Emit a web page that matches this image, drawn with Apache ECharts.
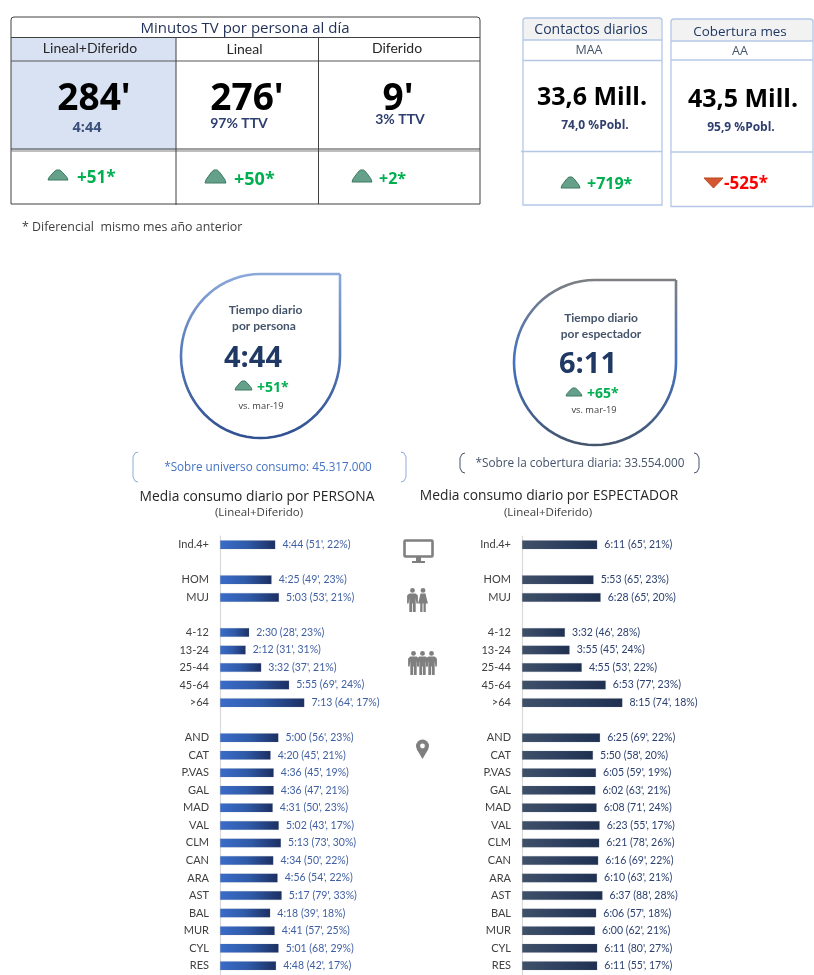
<!DOCTYPE html>
<html>
<head>
<meta charset="utf-8">
<title>Consumo TV</title>
<style>html,body{margin:0;padding:0;background:#fff}#main{width:814px;height:975px}</style>
<script src="https://cdn.jsdelivr.net/npm/echarts@6/dist/echarts.min.js"></script>
</head>
<body>
<div id="main"></div>
<script>
// blank strings are the gaps between groups
var categories = ['Ind.4+','','HOM','MUJ','','4-12','13-24','25-44','45-64','>64','','AND','CAT','P.VAS','GAL','MAD','VAL','CLM','CAN','ARA','AST','BAL','MUR','CYL','RES']

var personaTime = ['4:44',null,'4:25','5:03',null,'2:30','2:12','3:32','5:55','7:13',null,'5:00','4:20','4:36','4:36','4:31','5:02','5:13','4:34','4:56','5:17','4:18','4:41','5:01','4:48']
var personaDiff = [51,null,49,53,null,28,31,37,69,64,null,56,45,45,47,50,43,73,50,54,79,39,57,68,42]
var personaPct = [22,null,23,21,null,23,31,21,24,17,null,23,21,19,21,23,17,30,22,22,33,18,25,29,17]

var espectTime = ['6:11',null,'5:53','6:28',null,'3:32','3:55','4:55','6:53','8:15',null,'6:25','5:50','6:05','6:02','6:08','6:23','6:21','6:16','6:10','6:37','6:06','6:00','6:11','6:11']
var espectDiff = [65,null,65,65,null,46,45,53,77,74,null,69,58,59,63,71,55,78,69,63,88,57,62,80,55]
var espectPct = [21,null,23,20,null,28,24,22,23,18,null,22,20,19,21,24,17,26,22,21,28,18,21,27,17]

var FONT = 'Lato'
var SANS = '"Open Sans"'

function toMinutes(t){
  if(t===null) return null
  var p=t.split(':')
  return parseInt(p[0])*60+parseInt(p[1])
}
function barLabel(times,diffs,pcts){
  return function(p){
    var i=p.dataIndex
    return times[i]+' ('+diffs[i]+"', "+pcts[i]+'%)'
  }
}
function hGrad(a,b,c){
  return {type:'linear',x:0,y:0,x2:1,y2:0,colorStops:[{offset:0,color:a},{offset:0.5,color:b},{offset:1,color:c}]}
}

// ---- little helpers for the panels around the charts ----
var g=[]
function txt(s,x,y,size,color,opt){
  opt=opt||{}
  g.push({type:'text',z:10,x:x,y:y,style:{text:s,fill:color,
    font:(opt.bold?'bold ':'')+size+'px '+(opt.font||FONT),
    align:opt.align||'center',verticalAlign:'middle'}})
}
function line(x1,y1,x2,y2,color,w){
  g.push({type:'line',z:5,shape:{x1:x1,y1:y1,x2:x2,y2:y2},style:{stroke:color,lineWidth:w||1}})
}
function box(x,y,w,h,fill,stroke,r){
  g.push({type:'rect',z:r===undefined?3:4,shape:{x:x,y:y,width:w,height:h,r:r||0},style:{fill:fill||'transparent',stroke:stroke||null,lineWidth:1}})
}
function up(x,y,w,h){ // green mound
  g.push({type:'polygon',z:8,shape:{points:[[x,y+h],[x+w*0.06,y+h*0.72],[x+w*0.3,y+h*0.18],[x+w*0.42,y],[x+w*0.58,y],[x+w*0.7,y+h*0.18],[x+w*0.94,y+h*0.72],[x+w,y+h]]},
    style:{fill:'#64a08a',stroke:'#3f7a64',lineWidth:1}})
}
function down(x,y,w,h){
  g.push({type:'polygon',z:8,shape:{points:[[x,y],[x+w,y],[x+w/2,y+h]]},style:{fill:'#d4572f',stroke:'#b8481f',lineWidth:1}})
}
function drop(cx,cy,rx,ry,stops){
  var pts=[[cx+rx,cy-ry],[cx+rx,cy]]
  for(var a=1;a<=54;a++){
    var t=a/54*1.5*Math.PI
    pts.push([cx+rx*Math.cos(t),cy+ry*Math.sin(t)])
  }
  pts.push([cx+rx,cy-ry])
  g.push({type:'polyline',z:6,shape:{points:pts},style:{fill:'none',lineWidth:2.6,lineJoin:'miter',
    stroke:{type:'linear',x:0,y:0,x2:0,y2:1,colorStops:stops}}})
}
function bracket(x1,x2,y1,y2,color){
  g.push({type:'polyline',z:6,shape:{points:[[x1+5,y1],[x1+2,y1+1],[x1,y1+5],[x1,y2-5],[x1+2,y2-1],[x1+5,y2]]},style:{fill:'none',stroke:color,lineWidth:1}})
  g.push({type:'polyline',z:6,shape:{points:[[x2-5,y1],[x2-2,y1+1],[x2,y1+5],[x2,y2-5],[x2-2,y2-1],[x2-5,y2]]},style:{fill:'none',stroke:color,lineWidth:1}})
}
var ICON='#7f7f7f'
function person(x,y,skirt){
  g.push({type:'circle',z:8,shape:{cx:x,cy:y+2.4,r:2.4},style:{fill:ICON}})
  var body=skirt
    ? [[x-2.6,y+5.5],[x+2.6,y+5.5],[x+3.5,y+10],[x+5,y+15.5],[x+2.8,y+15.5],[x+2.8,y+24],[x+0.5,y+24],[x+0.5,y+15.5],[x-0.5,y+15.5],[x-0.5,y+24],[x-2.8,y+24],[x-2.8,y+15.5],[x-5,y+15.5],[x-3.5,y+10]]
    : [[x-3.2,y+5.5],[x+3.2,y+5.5],[x+5.4,y+7.5],[x+5.4,y+15.5],[x+3.9,y+15.5],[x+3.2,y+10],[x+3.2,y+24],[x+0.4,y+24],[x+0.4,y+15.5],[x-0.4,y+15.5],[x-0.4,y+24],[x-3.2,y+24],[x-3.2,y+10],[x-3.9,y+15.5],[x-5.4,y+15.5],[x-5.4,y+7.5]]
  g.push({type:'polygon',z:8,shape:{points:body},style:{fill:ICON}})
}

// ---- tabla minutos ----
box(11,38,165,112,'#d9e2f3')
g.push({type:'rect',z:4,shape:{x:11,y:17,width:469,height:187,r:[3,3,0,0]},style:{fill:'transparent',stroke:'#404040',lineWidth:1}})
line(11,37.5,480,37.5,'#404040')
line(11,61,480,61,'#595959',1.2)
line(11,149,480,149,'#404040')
line(11,151,480,151,'#7f7f7f')
line(176,38,176,205,'#404040')
line(318.5,38,318.5,204,'#404040')
txt('Minutos TV por persona al día',245,29,15,'#1f2f55',{font:SANS})
txt('Lineal+Diferido',90,48,14,'#262626',{font:FONT})
txt('Lineal',244.5,49,14,'#262626',{font:FONT})
txt('Diferido',397,48,14,'#262626',{font:FONT})
txt("284'",94,99,37,'#000',{bold:true,font:SANS})
txt("276'",247,99,37,'#000',{bold:true,font:SANS})
txt("9'",398,99,37,'#000',{bold:true,font:SANS})
txt('4:44',87,128,14.5,'#3b5078',{bold:true,font:SANS})
txt('97% TTV',239,123,14,'#2f4070',{bold:true})
txt('3% TTV',400,119,14,'#2f4070',{bold:true})
up(48,170,20,10)
txt('+51*',77,178,17,'#00b050',{bold:true,font:SANS,align:'left'})
up(205,170,21,13)
txt('+50*',234,180,18,'#00b050',{bold:true,font:SANS,align:'left'})
up(352,170,20,12)
txt('+2*',379,179,16,'#00b050',{bold:true,font:SANS,align:'left'})
txt('* Diferencial  mismo mes año anterior',22,227,12.4,'#404040',{font:SANS,align:'left'})

// ---- contactos / cobertura ----
var EDGE='#b4c7e7'
box(523,18,139,22,'#f2f2f2')
box(671,19,143,22,'#f2f2f2')
g.push({type:'rect',z:4,shape:{x:523,y:18,width:139,height:187,r:[3,3,0,0]},style:{fill:'transparent',stroke:EDGE,lineWidth:1.3}})
g.push({type:'rect',z:4,shape:{x:671,y:19,width:142,height:187.5,r:[3,3,0,0]},style:{fill:'transparent',stroke:EDGE,lineWidth:1.3}})
line(523,40,662,40,EDGE,1.3)
line(523,60.5,662,60.5,EDGE,1.3)
line(521,151.5,662,151.5,EDGE,1.3)
line(671,41,813,41,EDGE,1.3)
line(671,60,813,60,EDGE,1.3)
line(671,152,813,152,EDGE,1.6)
txt('Contactos diarios',591,30,14,'#1f3864',{font:SANS})
txt('Cobertura mes',740,32,13.4,'#1f3864',{font:SANS})
txt('MAA',589,50,12.5,'#44546a',{font:SANS})
txt('AA',740,51,12.5,'#44546a',{font:SANS})
txt('33,6 Mill.',592,98,25,'#000',{bold:true,font:SANS})
txt('43,5 Mill.',743,100,25,'#000',{bold:true,font:SANS})
txt('74,0 %Pobl.',595,125.5,12,'#2f4070',{bold:true,font:SANS})
txt('95,9 %Pobl.',741,127.5,12,'#2f4070',{bold:true,font:SANS})
up(561,177,19,11)
txt('+719*',587,184,16,'#00b050',{bold:true,font:SANS,align:'left'})
down(704,178,19,10)
txt('-525*',724,184,17,'#ff0000',{bold:true,font:SANS,align:'left'})

// ---- gotas ----
drop(260.5,356,79.5,82,[{offset:0,color:'#8eaadb'},{offset:0.5,color:'#5578b8'},{offset:1,color:'#2f4f8f'}])
drop(595,362.5,81,82.5,[{offset:0,color:'#7f7f7f'},{offset:0.5,color:'#4472c4'},{offset:1,color:'#44546a'}])
txt('Tiempo diario',265.5,310,12,'#44546a',{bold:true})
txt('por persona',264,326,12,'#44546a',{bold:true})
txt('4:44',253,359,29,'#1f3864',{bold:true,font:SANS})
up(235,381,17,9)
txt('+51*',257,388,14,'#00b050',{bold:true,font:SANS,align:'left'})
txt('vs. mar-19',261,406,9.3,'#404040',{font:SANS})
txt('Tiempo diario',601,318,12,'#44546a',{bold:true})
txt('por espectador',601,334,12,'#44546a',{bold:true})
txt('6:11',588,365,29,'#1f3864',{bold:true,font:SANS})
up(566,388,16,8)
txt('+65*',587,394,14,'#00b050',{bold:true,font:SANS,align:'left'})
txt('vs. mar-19',594,410,9.3,'#404040',{font:SANS})

bracket(133,406,452,482,'#8eaadb')
bracket(460,699,453,473,'#44546a')
txt('*Sobre universo consumo: 45.317.000',268,468,11.7,'#4472c4',{font:SANS})
txt('*Sobre la cobertura diaria: 33.554.000',580,464,11.8,'#44546a',{font:SANS})
txt('Media consumo diario por PERSONA',257,497,13.8,'#262626',{font:SANS})
txt('(Lineal+Diferido)',259,513,11.5,'#404040',{font:SANS})
txt('Media consumo diario por ESPECTADOR',549,496,13.8,'#262626',{font:SANS})
txt('(Lineal+Diferido)',548,513,11.5,'#404040',{font:SANS})

// ---- iconos centro ----
g.push({type:'rect',z:8,shape:{x:404.5,y:540.5,width:28,height:16,r:1},style:{fill:'#fff',stroke:ICON,lineWidth:2.6}})
box(416,557,5,4,ICON)
box(412,561,13,2,ICON)
person(412.5,588)
person(423,588,true)
person(413.5,651)
person(422.5,651)
person(431.5,651)
g.push({type:'circle',z:8,shape:{cx:422.5,cy:746,r:6.5},style:{fill:ICON}})
g.push({type:'polygon',z:8,shape:{points:[[416.6,749],[428.4,749],[422.5,759]]},style:{fill:ICON}})
g.push({type:'circle',z:9,shape:{cx:422.5,cy:746,r:2.4},style:{fill:'#fff'}})

var myChart=echarts.init(document.getElementById('main'),null,{renderer:'canvas'})

function catAxis(idx){
  return {
    type:'category',gridIndex:idx,inverse:true,data:categories,
    axisTick:{show:false},
    axisLine:{show:true,lineStyle:{color:'#d9d9d9',width:1.2}},
    axisLabel:{interval:0,margin:11,fontFamily:FONT,fontSize:11,color:'#404040'}
  }
}
function valAxis(idx){
  return {type:'value',gridIndex:idx,min:0,max:1000,show:false,splitLine:{show:false}}
}
function barSeries(idx,times,diffs,pcts,color,labelColor){
  return {
    type:'bar',xAxisIndex:idx,yAxisIndex:idx,
    data:times.map(toMinutes),
    barWidth:9,silent:true,
    itemStyle:{color:color,borderColor:'rgba(120,130,150,0.35)',borderWidth:0.5},
    label:{show:true,position:'right',distance:7,fontFamily:FONT,fontSize:10.5,color:labelColor,
      formatter:barLabel(times,diffs,pcts)}
  }
}

var option={
  animation:false,
  backgroundColor:'#fff',
  grid:[
    {left:220,top:536,width:195,height:438.5},
    {left:522,top:536,width:203,height:438.5}
  ],
  xAxis:[valAxis(0),valAxis(1)],
  yAxis:[catAxis(0),catAxis(1)],
  series:[
    barSeries(0,personaTime,personaDiff,personaPct,hGrad('#3a6cc9','#2f5aa8','#1c2f62'),'#3f5fa3'),
    barSeries(1,espectTime,espectDiff,espectPct,hGrad('#3f5068','#2f4160','#1f3050'),'#2c4170')
  ],
  graphic:{elements:g}
}
myChart.setOption(option)
</script>
</body>
</html>
